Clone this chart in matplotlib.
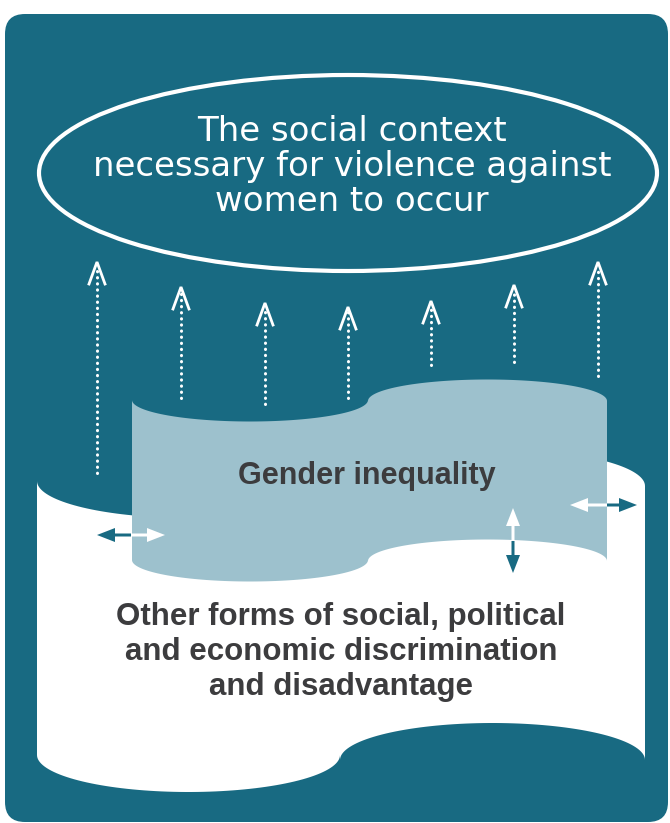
import numpy as np
import matplotlib.pyplot as plt
from matplotlib.patches import Ellipse, FancyBboxPatch, Polygon

TEAL = '#186a82'
LIGHT = '#9dc1cd'
DARK = '#3c3c3e'

# dotted "upward" arrows: x position, tip and tail (pixel units, y down)
arrow_x = [97, 181, 265, 348, 431, 514, 598]
arrow_tip = [262, 287, 303, 307, 301, 285, 262]
arrow_tail = [473, 398, 404, 398, 365, 362, 376]

title_lines = ["The social context", "necessary for violence against", "women to occur"]
inner_label = "Gender inequality"
outer_lines = ["Other forms of social, political",
               "and economic discrimination",
               "and disadvantage"]


def wave_band(x0, xn, x1, base_l, base_r, depth, height):
    # left half sags (bottom of an ellipse), right half bulges (top of an ellipse)
    t = np.linspace(0, np.pi, 80)
    xl = x0 + (xn - x0) * (1 - np.cos(t)) / 2
    yl = base_l + depth * np.sin(t)
    xr = xn + (x1 - xn) * (1 - np.cos(t)) / 2
    yr = base_r - depth * np.sin(t)
    x = np.concatenate([xl, xr])
    y = np.concatenate([yl, yr])
    pts = np.column_stack([np.concatenate([x, x[::-1]]),
                           np.concatenate([y, (y + height)[::-1]])])
    return pts


fig = plt.figure(figsize=(6.7, 8.23), dpi=100)
ax = fig.add_axes([0, 0, 1, 1])
ax.set_xlim(0, 670)
ax.set_ylim(823, 0)
ax.axis('off')

# background panel
ax.add_patch(FancyBboxPatch((5, 14), 663, 808, boxstyle='round,pad=0,rounding_size=20',
                            fc=TEAL, ec='none', zorder=0))

# top ellipse
ax.add_patch(Ellipse((348, 173), 618, 196, fill=False, ec='white', lw=3, zorder=2))
for i, line in enumerate(title_lines):
    ax.text(352, 131 + i * 35, line, color='white', fontsize=24.5, family='DejaVu Sans',
            ha='center', va='center', zorder=3)

# dotted arrows
for x, tip, tail in zip(arrow_x, arrow_tip, arrow_tail):
    ax.plot([x, x], [tail, tip + 4], color='white', lw=2.2,
            linestyle=(0, (0.1, 1.9)), dash_capstyle='round', zorder=2)
    ax.plot([x - 8, x, x + 8], [tip + 22, tip, tip + 22], color='white', lw=2.0,
            solid_joinstyle='miter', zorder=2)

# white band
ax.add_patch(Polygon(wave_band(37, 340, 645, 481, 486, 37, 274), closed=True,
                     fc='white', ec='none', zorder=4))
# light blue band
ax.add_patch(Polygon(wave_band(132, 368, 607, 400, 401, 21.5, 160), closed=True,
                     fc=LIGHT, ec='none', zorder=5))

ax.text(367, 476, inner_label, color=DARK, fontsize=22, fontweight='bold',
        family='Liberation Sans', ha='center', va='center', zorder=7)
for i, line in enumerate(outer_lines):
    ax.text(341, 617 + i * 35, line, color=DARK, fontsize=22.5, fontweight='bold',
            family='Liberation Sans', ha='center', va='center', zorder=7)

# double-headed arrows (two halves: teal and white)
akw = dict(width=3, head_width=14, head_length=18, length_includes_head=True,
           lw=0, zorder=8)
ax.arrow(131, 535, -34, 0, fc=TEAL, **akw)
ax.arrow(131, 535, 34, 0, fc='white', **akw)
ax.arrow(607, 505, -37, 0, fc='white', **akw)
ax.arrow(607, 505, 30, 0, fc=TEAL, **akw)
ax.arrow(513, 541, 0, -33, fc='white', **akw)
ax.arrow(513, 541, 0, 32, fc=TEAL, **akw)

fig.savefig('out.png', dpi=100)
